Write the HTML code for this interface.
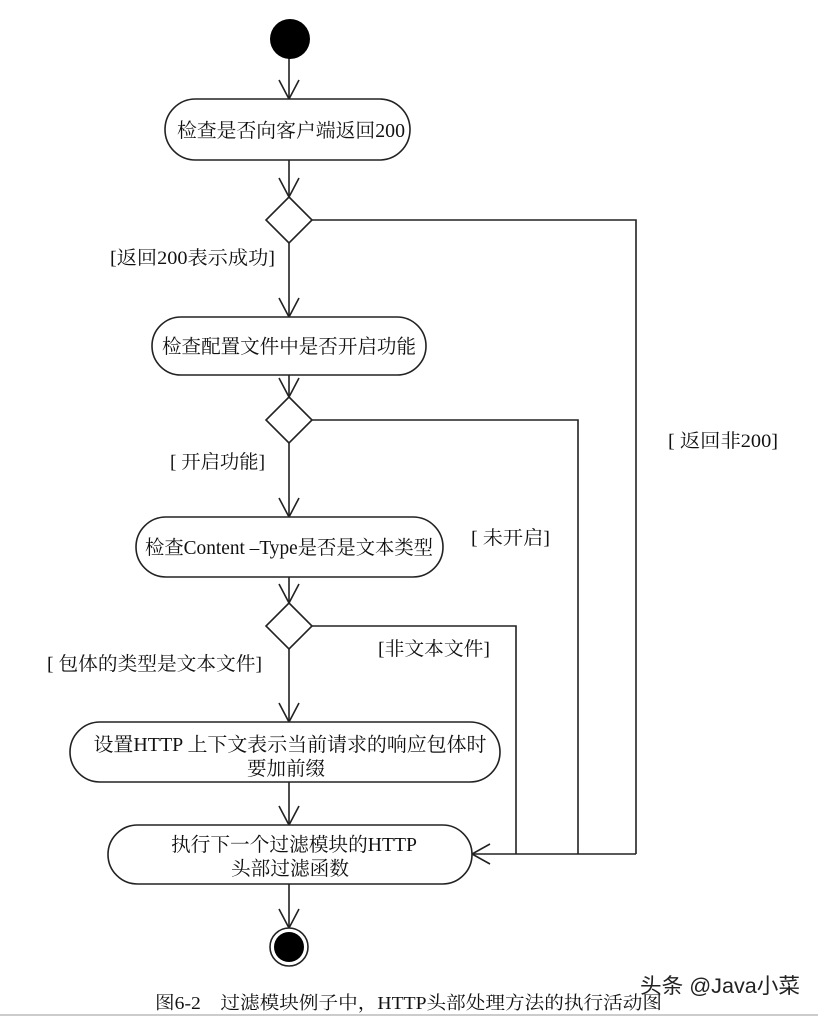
<!DOCTYPE html>
<html><head><meta charset="utf-8"><style>
html,body{margin:0;padding:0;background:#fff;}
svg{display:block;}
text{font-family:"Liberation Serif","Noto Serif CJK SC",serif;fill:#111;}
</style></head><body>
<svg width="818" height="1018" viewBox="0 0 818 1018" xmlns="http://www.w3.org/2000/svg">
<rect width="818" height="1018" fill="#fff"/>
<g stroke="#222" stroke-width="1.6" fill="none">
<line x1="289" y1="58" x2="289" y2="99"/>
<polyline points="279,80 289,99 299,80"/>
<line x1="289" y1="160" x2="289" y2="197"/>
<polyline points="279,178 289,197 299,178"/>
<line x1="289" y1="243" x2="289" y2="317"/>
<polyline points="279,298 289,317 299,298"/>
<line x1="289" y1="375" x2="289" y2="397"/>
<polyline points="279,378 289,397 299,378"/>
<line x1="289" y1="443" x2="289" y2="517"/>
<polyline points="279,498 289,517 299,498"/>
<line x1="289" y1="577" x2="289" y2="603"/>
<polyline points="279,584 289,603 299,584"/>
<line x1="289" y1="649" x2="289" y2="722"/>
<polyline points="279,703 289,722 299,703"/>
<line x1="289" y1="782" x2="289" y2="825"/>
<polyline points="279,806 289,825 299,806"/>
<line x1="289" y1="884" x2="289" y2="928"/>
<polyline points="279,909 289,928 299,909"/>
<polyline points="311,220 636,220 636,854"/>
<polyline points="312,420 578,420 578,854"/>
<polyline points="312,626 516,626 516,854"/>
<line x1="472" y1="854" x2="636" y2="854"/>
<polyline points="490,844 472,854 490,864"/>
<rect x="165" y="99" width="245" height="61" rx="30.5" fill="#fff"/>
<rect x="152" y="317" width="274" height="58" rx="29" fill="#fff"/>
<rect x="136" y="517" width="307" height="60" rx="30" fill="#fff"/>
<rect x="70" y="722" width="430" height="60" rx="30" fill="#fff"/>
<rect x="108" y="825" width="364" height="59" rx="29.5" fill="#fff"/>
<polygon points="289,197 312,220 289,243 266,220" fill="#fff"/>
<polygon points="289,397 312,420 289,443 266,420" fill="#fff"/>
<polygon points="289,603 312,626 289,649 266,626" fill="#fff"/>
</g>
<circle cx="290" cy="39" r="20" fill="#000"/>
<circle cx="289" cy="947" r="19" fill="#fff" stroke="#222" stroke-width="1.6"/>
<circle cx="289" cy="947" r="15" fill="#000"/>
<g font-size="19.5" text-anchor="middle">
<text x="291" y="137" textLength="228" lengthAdjust="spacingAndGlyphs">检查是否向客户端返回200</text>
<text x="289" y="353" textLength="254" lengthAdjust="spacingAndGlyphs">检查配置文件中是否开启功能</text>
<text x="289" y="554" textLength="288" lengthAdjust="spacingAndGlyphs">检查Content –Type是否是文本类型</text>
<text x="290" y="751" textLength="393" lengthAdjust="spacingAndGlyphs">设置HTTP 上下文表示当前请求的响应包体时</text>
<text x="286" y="775" textLength="78" lengthAdjust="spacingAndGlyphs">要加前缀</text>
<text x="294" y="851" textLength="246" lengthAdjust="spacingAndGlyphs">执行下一个过滤模块的HTTP</text>
<text x="290" y="875" textLength="118" lengthAdjust="spacingAndGlyphs">头部过滤函数</text>
</g>
<g font-size="19">
<text x="110" y="264" textLength="165" lengthAdjust="spacingAndGlyphs">[返回200表示成功]</text>
<text x="170" y="468" textLength="95" lengthAdjust="spacingAndGlyphs">[ 开启功能]</text>
<text x="471" y="544" textLength="79" lengthAdjust="spacingAndGlyphs">[ 未开启]</text>
<text x="668" y="447" textLength="110" lengthAdjust="spacingAndGlyphs">[ 返回非200]</text>
<text x="47" y="670" textLength="215" lengthAdjust="spacingAndGlyphs">[ 包体的类型是文本文件]</text>
<text x="378" y="655" textLength="112" lengthAdjust="spacingAndGlyphs">[非文本文件]</text>
</g>
<text x="155" y="1009" font-size="18" textLength="507" lengthAdjust="spacingAndGlyphs">图6-2　过滤模块例子中，HTTP头部处理方法的执行活动图</text>
<text x="640" y="993" font-size="21" textLength="160" lengthAdjust="spacingAndGlyphs" style="font-family:'Liberation Sans','Noto Sans CJK SC',sans-serif;fill:#222">头条 @Java小菜</text>
<line x1="0" y1="1015" x2="818" y2="1015" stroke="#ccc" stroke-width="2"/>
</svg>
</body></html>
